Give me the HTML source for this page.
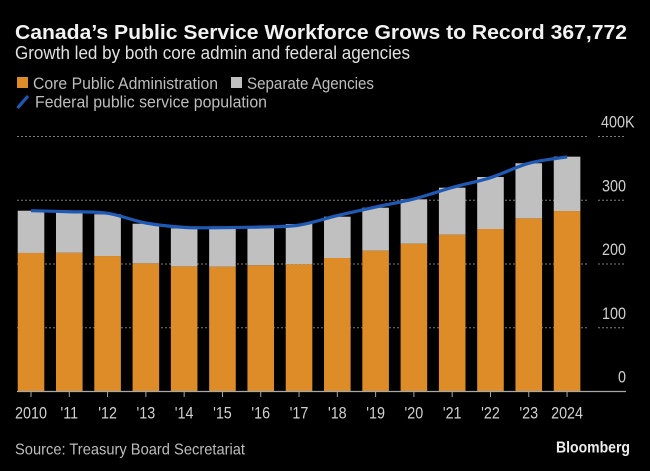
<!DOCTYPE html>
<html lang="en">
<head>
<meta charset="utf-8">
<title>Canada's Public Service Workforce</title>
<style>
html,body{margin:0;padding:0;background:#000;}
svg{display:block;}
text{font-family:"Liberation Sans",sans-serif;}
</style>
</head>
<body>
<svg id="chart" xmlns="http://www.w3.org/2000/svg" width="650" height="471" viewBox="0 0 650 471">
  <rect width="650" height="471" fill="#000"/>
  <text x="15" y="39" font-size="20.5" font-weight="700" fill="#f2f2f2" textLength="612" lengthAdjust="spacingAndGlyphs">Canada’s Public Service Workforce Grows to Record 367,772</text>
  <text x="15" y="59" font-size="18" fill="#e0e0e0" textLength="395" lengthAdjust="spacingAndGlyphs">Growth led by both core admin and federal agencies</text>
  <g>
    <rect x="17" y="77" width="11" height="11" fill="#dd8c27"/>
    <text x="33" y="89" font-size="17" fill="#bdbdbd" textLength="185" lengthAdjust="spacingAndGlyphs">Core Public Administration</text>
    <rect x="231" y="77" width="11" height="11" fill="#c0c0c0"/>
    <text x="247" y="89" font-size="17" fill="#bdbdbd" textLength="127" lengthAdjust="spacingAndGlyphs">Separate Agencies</text>
    <line x1="17.5" y1="108" x2="28" y2="96" stroke="#1e5ab5" stroke-width="3.2"/>
    <text x="35" y="107.5" font-size="17" fill="#bdbdbd" textLength="232" lengthAdjust="spacingAndGlyphs">Federal public service population</text>
  </g>
  <g id="grid"></g>
  <g id="bars"></g>
  <g id="axis"></g>
  <g id="line"></g>
  <text x="15" y="454.5" font-size="16" fill="#bdbdbd" textLength="230" lengthAdjust="spacingAndGlyphs">Source: Treasury Board Secretariat</text>
  <text x="556" y="452.5" font-size="16" font-weight="700" fill="#ededed" textLength="74" lengthAdjust="spacingAndGlyphs">Bloomberg</text>
</svg>
<script>
var categories = ["2010","'11","'12","'13","'14","'15","'16","'17","'18","'19","'20","'21","'22","'23","2024"];
var coreValues = [217.3,217.6,212.5,201,196.3,195.8,198,199.6,209.4,220.9,231.9,246,254.9,271.6,283.1];
var agencyValues = [66.3,62.9,65.5,62.2,59.7,59.1,59,63.1,64.8,67.4,69.6,73.7,81.6,86.4,85.3];
var populationValues = [283.6,282,279.5,264.3,257.5,257,258,261,276,289.4,302,320,335.4,358,368];
var tickValues = [0,100,200,300,400];
var tickLabels = ["0","100","200","300","400K"];

var NS = 'http://www.w3.org/2000/svg';
function xScale(i){ return 31 + i * 38.29; }
function yScale(v){ return 391.5 - v * 0.6375; }
function make(tag, parent, attrs){
  var el = document.createElementNS(NS, tag);
  for (var k in attrs) el.setAttribute(k, attrs[k]);
  parent.appendChild(el);
  return el;
}
function condense(el){
  var w = el.getComputedTextLength();
  el.setAttribute('textLength', (w * 0.87).toFixed(2));
  el.setAttribute('lengthAdjust', 'spacingAndGlyphs');
}
var gridG = document.getElementById('grid');
var barsG = document.getElementById('bars');
var axisG = document.getElementById('axis');
var lineG = document.getElementById('line');









tickValues.forEach(function(v, i){
  var y = yScale(v);
  if (v !== 0) {
    var left = make('line', gridG, {x1:17, x2:589, y1:y, y2:y, stroke:'#7c7c7c', 'stroke-width':1, 'stroke-dasharray':'2 2'});
    
    
    var right = make('line', gridG, {x1:598, x2:626, y1:y, y2:y, stroke:'#7c7c7c', 'stroke-width':1, 'stroke-dasharray':'2 2'});
    
    
  }
  var label = make('text', axisG, {x:626, y:y - 8.8, 'font-size':16.5, fill:'#d0d0d0', 'text-anchor': v === 400 ? 'start' : 'end'});
  if (v === 400) label.setAttribute('x', 601);
  label.textContent = tickLabels[i];
  
  
  condense(label);
});

categories.forEach(function(c, i){
  var x = xScale(i), w = 26.6;
  var total = coreValues[i] + agencyValues[i];
  var core = make('rect', barsG, {x:x - w / 2, y:yScale(coreValues[i]), width:w, height:yScale(0) - yScale(coreValues[i]), fill:'#dd8c27'});
  
  
  var agency = make('rect', barsG, {x:x - w / 2, y:yScale(total), width:w, height:yScale(coreValues[i]) - yScale(total), fill:'#c0c0c0'});
  
  
  var tick = make('line', axisG, {x1:x, x2:x, y1:391.5, y2:397, stroke:'#a8a8a8', 'stroke-width':1});
  
  
  var label = make('text', axisG, {x:x, y:418.3, 'font-size':16.5, fill:'#d0d0d0', 'text-anchor':'middle'});
  label.textContent = c;
  
  
  condense(label);
});
var baseline = make('line', axisG, {x1:17, x2:626, y1:391.5, y2:391.5, stroke:'#a8a8a8', 'stroke-width':1.2});



// Smooth curve through each yearly point
var pts = populationValues.map(function(v, i){ return [xScale(i), yScale(v)]; });
var d = 'M' + pts[0][0] + ' ' + pts[0][1];
for (var i = 0; i < pts.length - 1; i++) {
  var p0 = pts[Math.max(i - 1, 0)], p1 = pts[i], p2 = pts[i + 1], p3 = pts[Math.min(i + 2, pts.length - 1)];
  var c1x = p1[0] + (p2[0] - p0[0]) / 6, c1y = p1[1] + (p2[1] - p0[1]) / 6;
  var c2x = p2[0] - (p3[0] - p1[0]) / 6, c2y = p2[1] - (p3[1] - p1[1]) / 6;
  d += 'C' + c1x + ' ' + c1y + ' ' + c2x + ' ' + c2y + ' ' + p2[0] + ' ' + p2[1];
}
var path = make('path', lineG, {d:d, fill:'none', stroke:'#1e5ab5', 'stroke-width':3.2});


</script>
</body>
</html>
